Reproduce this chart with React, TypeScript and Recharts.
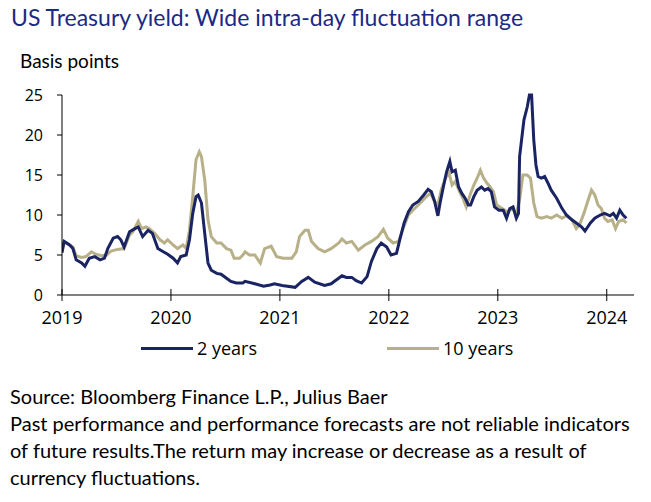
import React from 'react';
import { LineChart, Line, XAxis, YAxis } from 'recharts';

// 2-year series: time (fractional year) and intra-day range (bp)
const twoYearT = [
  2019.0, 2019.02, 2019.07, 2019.1, 2019.13, 2019.18, 2019.21, 2019.25, 2019.3, 2019.35, 2019.39,
  2019.42, 2019.47, 2019.51, 2019.54, 2019.57, 2019.62, 2019.67, 2019.7, 2019.74, 2019.79, 2019.83,
  2019.88, 2019.93, 2019.97, 2020.02, 2020.06, 2020.09, 2020.14, 2020.17, 2020.2, 2020.23, 2020.25,
  2020.28, 2020.31, 2020.34, 2020.37, 2020.42, 2020.46, 2020.51, 2020.55, 2020.6, 2020.66,
  2020.68, 2020.77, 2020.85, 2020.91, 2020.95, 2021.02, 2021.14, 2021.2, 2021.26, 2021.32, 2021.41,
  2021.47, 2021.52, 2021.57, 2021.61, 2021.66, 2021.7, 2021.75, 2021.8, 2021.84, 2021.89, 2021.93,
  2021.98, 2022.02, 2022.07, 2022.1, 2022.14, 2022.18, 2022.22, 2022.27, 2022.32, 2022.36,
  2022.39, 2022.42, 2022.45, 2022.47, 2022.5, 2022.53, 2022.56, 2022.58, 2022.61, 2022.64, 2022.67,
  2022.7, 2022.73, 2022.75, 2022.78, 2022.81, 2022.85, 2022.88, 2022.91, 2022.94, 2022.97, 2023.01,
  2023.05, 2023.08, 2023.11, 2023.14, 2023.17, 2023.19, 2023.2, 2023.24, 2023.27, 2023.29, 2023.31,
  2023.33, 2023.35, 2023.37, 2023.4, 2023.43, 2023.46, 2023.49, 2023.54, 2023.59, 2023.63, 2023.68,
  2023.72, 2023.77, 2023.8, 2023.85, 2023.89, 2023.94, 2023.98, 2024.03, 2024.06, 2024.09, 2024.12,
  2024.15, 2024.18,
];
const twoYearV = [
  5.3, 6.7, 6.25, 5.8, 4.4, 4.0, 3.6, 4.6, 4.8, 4.4, 4.6,
  5.8, 7.1, 7.3, 6.9, 6.0, 7.9, 8.3, 8.5, 7.3, 8.1, 7.7,
  5.8, 5.4, 5.1, 4.6, 4.0, 4.8, 5.0, 6.9, 10.2, 12.3, 12.5,
  11.5, 7.7, 4.0, 3.1, 2.7, 2.6, 2.1, 1.7, 1.5, 1.5,
  1.7, 1.4, 1.1, 1.25, 1.4, 1.2, 0.96, 1.7, 2.2, 1.6, 1.2,
  1.4, 1.9, 2.4, 2.2, 2.2, 1.8, 1.5, 2.3, 4.2, 5.8, 6.5,
  6.0, 5.0, 5.2, 6.9, 9.0, 10.4, 11.25, 11.7, 12.5, 13.2,
  12.9, 11.7, 9.9, 11.5, 13.5, 15.4, 16.7, 15.4, 15.6, 13.5, 12.7,
  12.1, 11.25, 11.25, 12.3, 13.1, 13.5, 13.1, 13.3, 12.9, 11.0, 10.6,
  10.6, 9.6, 10.8, 11.0, 9.6, 10.2, 17.3, 21.9, 23.5, 25.0, 25.0,
  19.4, 16.25, 14.8, 14.6, 14.8, 14.0, 13.1, 12.1, 10.8, 10.0, 9.4,
  9.0, 8.5, 8.0, 9.0, 9.6, 10.0, 10.2, 9.9, 10.2, 9.6, 10.6,
  10.0, 9.6,
];

// 10-year series
const tenYearT = [
  2019.0, 2019.02, 2019.07, 2019.1, 2019.13, 2019.18, 2019.22, 2019.27, 2019.31, 2019.36, 2019.41,
  2019.45, 2019.51, 2019.57, 2019.62, 2019.65, 2019.7, 2019.73, 2019.77, 2019.8, 2019.85, 2019.9,
  2019.94, 2019.97, 2020.02, 2020.06, 2020.11, 2020.14, 2020.17, 2020.2, 2020.23, 2020.26, 2020.28,
  2020.31, 2020.34, 2020.37, 2020.42, 2020.46, 2020.51, 2020.55, 2020.58, 2020.63, 2020.66,
  2020.68, 2020.72, 2020.77, 2020.82, 2020.86, 2020.92, 2020.97, 2021.03, 2021.11, 2021.15, 2021.18,
  2021.23, 2021.26, 2021.29, 2021.35, 2021.41, 2021.47, 2021.54, 2021.57, 2021.61, 2021.66, 2021.72,
  2021.78, 2021.84, 2021.9, 2021.95, 2021.99, 2022.04, 2022.09, 2022.13, 2022.18, 2022.22, 2022.27,
  2022.33, 2022.38, 2022.42, 2022.45, 2022.48, 2022.52, 2022.55, 2022.58, 2022.61, 2022.65, 2022.68,
  2022.71, 2022.75, 2022.78, 2022.81, 2022.84, 2022.87, 2022.9, 2022.93, 2022.96, 2022.99, 2023.04,
  2023.08, 2023.13, 2023.17, 2023.2, 2023.23, 2023.27, 2023.3, 2023.33, 2023.36, 2023.4, 2023.45,
  2023.49, 2023.54, 2023.59, 2023.63, 2023.68, 2023.72, 2023.75, 2023.79, 2023.83, 2023.86, 2023.89,
  2023.92, 2023.95, 2023.98, 2024.01, 2024.05, 2024.08, 2024.11, 2024.15, 2024.18,
];
const tenYearV = [
  6.25, 6.7, 6.25, 6.0, 4.9, 4.7, 4.8, 5.4, 5.1, 4.9, 5.0,
  5.5, 5.7, 5.8, 7.5, 7.9, 9.2, 8.3, 8.5, 8.3, 7.7, 6.9,
  6.5, 6.9, 6.25, 5.8, 6.25, 5.8, 8.1, 12.3, 16.9, 17.9, 17.3,
  14.4, 9.4, 7.3, 6.5, 6.5, 5.8, 5.6, 4.6, 4.6, 5.0,
  5.4, 5.0, 5.0, 4.0, 5.8, 6.1, 4.8, 4.6, 4.6, 5.4, 7.3,
  8.1, 8.1, 6.7, 5.8, 5.4, 5.8, 6.5, 7.0, 6.5, 6.7, 5.6,
  6.25, 6.7, 7.3, 8.2, 7.1, 6.5, 6.7, 8.3, 10.0, 10.6, 11.25,
  12.1, 12.7, 11.7, 11.25, 13.1, 14.6, 15.4, 13.75, 14.2, 12.9, 12.1,
  11.0, 12.7, 13.75, 14.6, 15.6, 14.6, 14.0, 13.5, 12.9, 11.25, 10.8,
  10.4, 10.8, 10.2, 11.9, 15.0, 15.0, 14.6, 11.5, 9.8, 9.6, 9.8,
  9.6, 10.0, 9.6, 9.9, 9.4, 8.3, 8.75, 10.2, 11.9, 13.1, 12.5,
  11.25, 10.8, 9.6, 9.2, 9.4, 8.3, 9.2, 9.4, 9.0,
];

const xTicks = [2019, 2020, 2021, 2022, 2023, 2024];
const yTicks = [0, 5, 10, 15, 20, 25];
const seriesNames = ['2 years', '10 years'];
const titleText = 'US Treasury yield: Wide intra-day fluctuation range';
const unitText = 'Basis points';
const sourceLines = [
  'Source: Bloomberg Finance L.P., Julius Baer',
  'Past performance and performance forecasts are not reliable indicators',
  'of future results.The return may increase or decrease as a result of',
  'currency fluctuations.',
];

const NAVY = '#1b2463';
const TAN = '#b8b088';

const twoYear = twoYearT.map((t, i) => ({ t, v: twoYearV[i] }));
const tenYear = tenYearT.map((t, i) => ({ t, v: tenYearV[i] }));

const XTick = (props: any) => {
  const { x, y, payload } = props;
  return (
    <g>
      <line x1={x} x2={x} y1={y - 6} y2={y + 6} stroke="#000" strokeWidth={1} />
      <text x={x} y={y + 29} textAnchor="middle" fill="#000" fontSize={18} fontFamily="'Open Sans', sans-serif">
        {payload.value}
      </text>
    </g>
  );
};

const legendItems = [
  { c: NAVY, l: 141, n: seriesNames[0] },
  { c: TAN, l: 387, n: seriesNames[1] },
];

export default function App() {
  return (
    <div style={{ position: 'fixed', left: 0, top: 0, width: 651, height: 502, background: '#fff', overflow: 'hidden' }}>
      <div style={{ position: 'absolute', left: 11, top: 3, fontFamily: 'Lato, sans-serif', fontSize: 23, color: '#1b2a85', whiteSpace: 'nowrap', letterSpacing: 0 }}>
        {titleText}
      </div>
      <div style={{ position: 'absolute', left: 20, top: 49, fontFamily: 'Lato, sans-serif', fontSize: 19, color: '#000', whiteSpace: 'nowrap' }}>
        {unitText}
      </div>
      <div style={{ position: 'absolute', left: 0, top: 0 }}>
        <LineChart width={651} height={340} data={twoYear} margin={{ top: 95, right: 17, bottom: 15, left: 12 }}>
          <XAxis
            dataKey="t"
            type="number"
            domain={[2019, 2024.25]}
            ticks={xTicks}
            allowDataOverflow
            axisLine={{ stroke: '#000', strokeWidth: 1 }}
            tickLine={false}
            tickSize={0}
            tickMargin={0}
            tick={<XTick />}
            height={30}
            interval={0}
          />
          <YAxis
            type="number"
            domain={[0, 25]}
            ticks={yTicks}
            width={50}
            axisLine={{ stroke: '#000', strokeWidth: 1 }}
            tickLine={{ stroke: '#000', strokeWidth: 1 }}
            tickSize={5}
            tickMargin={14}
            tick={{ fill: '#000', fontSize: 16, fontFamily: "'Open Sans', sans-serif" }}
            interval={0}
          />
          <Line data={tenYear} dataKey="v" name={seriesNames[1]} stroke={TAN} strokeWidth={3} dot={false} isAnimationActive={false} type="linear" />
          <Line data={twoYear} dataKey="v" name={seriesNames[0]} stroke={NAVY} strokeWidth={3} dot={false} isAnimationActive={false} type="linear" />
        </LineChart>
      </div>
      {legendItems.map((it) => (
        <div key={it.n} style={{ position: 'absolute', left: it.l, top: 335, height: 26, display: 'flex', alignItems: 'center' }}>
          <div style={{ width: 52, height: 3, background: it.c }} />
          <span style={{ marginLeft: 4, fontFamily: "'Open Sans', sans-serif", fontSize: 18, color: '#000' }}>{it.n}</span>
        </div>
      ))}
      <div style={{ position: 'absolute', left: 10, top: 383, fontFamily: 'Lato, sans-serif', fontSize: 20, color: '#000', lineHeight: '27px' }}>
        {sourceLines.map((s) => (
          <div key={s} style={{ whiteSpace: 'nowrap' }}>{s}</div>
        ))}
      </div>
    </div>
  );
}
